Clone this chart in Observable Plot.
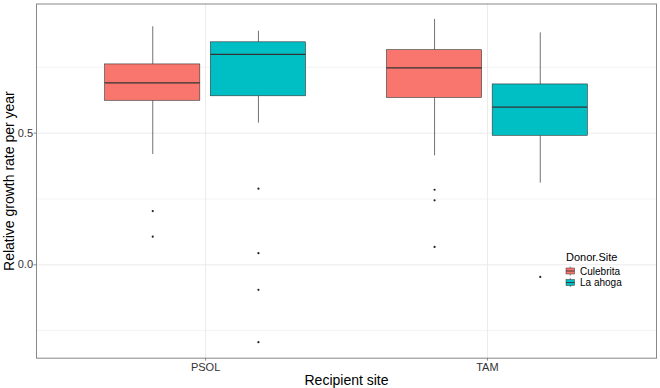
<!DOCTYPE html>
<html><head><meta charset="utf-8">
<script src="https://cdn.jsdelivr.net/npm/d3@7"></script>
<script src="https://cdn.jsdelivr.net/npm/@observablehq/plot@0.6"></script>
<style>
body{margin:0;background:#fff;}
#wrap{position:relative;width:660px;height:388px;font-family:"Liberation Sans",Arial,sans-serif;}
#legend{position:absolute;left:0;top:0;pointer-events:none;}
</style></head><body><div id="wrap"></div>
<script>
// ---- data ----
const sites = ["PSOL", "TAM"];
const donors = ["Culebrita", "La ahoga"];
const donorColors = ["#F8766D", "#00BFC4"];

const groupSite   = ["PSOL", "PSOL", "TAM", "TAM"];
const groupDonor  = ["Culebrita", "La ahoga", "Culebrita", "La ahoga"];
const upperWhisker = [0.904, 0.887, 0.932, 0.881];
const q3           = [0.761, 0.845, 0.815, 0.685];
const median       = [0.691, 0.799, 0.748, 0.599];
const q1           = [0.623, 0.640, 0.634, 0.490];
const lowerWhisker = [0.419, 0.538, 0.414, 0.310];

const outlierSite  = ["PSOL", "PSOL", "PSOL", "PSOL", "PSOL", "PSOL", "TAM", "TAM", "TAM", "TAM"];
const outlierDonor = ["Culebrita", "Culebrita", "La ahoga", "La ahoga", "La ahoga", "La ahoga", "Culebrita", "Culebrita", "Culebrita", "La ahoga"];
const outlierValue = [0.204, 0.107, 0.289, 0.044, -0.095, -0.294, 0.285, 0.245, 0.068, -0.046];

const yTicks = [0, 0.5];
const yGrid = [-0.25, 0, 0.25, 0.5, 0.75];

// ---- layout helpers ----
const dodge = 0.1875, boxW = 0.3375;
const xPos = (site, donor) => sites.indexOf(site) + 1 + (donors.indexOf(donor) === 0 ? -dodge : dodge);

const groups = groupSite.map((s, i) => ({
  site: s, donor: groupDonor[i], hi: upperWhisker[i], q3: q3[i], med: median[i], q1: q1[i], lo: lowerWhisker[i]
}));
const outliers = outlierSite.map((s, i) => ({site: s, donor: outlierDonor[i], v: outlierValue[i]}));

const font = '"Liberation Sans", Arial, sans-serif';
const chart = Plot.plot({
  width: 660, height: 388,
  marginLeft: 36, marginRight: 4, marginTop: 3.5, marginBottom: 30.3,
  style: {fontFamily: font, fontSize: "11px", background: "#fff", color: "#333"},
  x: {type: "linear", domain: [0.4, 2.6]},
  y: {domain: [-0.3547, 0.9905]},
  color: {domain: donors, range: donorColors},
  marks: [
    Plot.gridY(yGrid.filter(v => !yTicks.includes(v)), {stroke: "#ebebeb", strokeOpacity: 1, strokeWidth: 0.6}),
    Plot.gridY(yTicks, {stroke: "#ebebeb", strokeOpacity: 1, strokeWidth: 1}),
    Plot.gridX([1, 2], {stroke: "#ebebeb", strokeOpacity: 1, strokeWidth: 1}),
    Plot.ruleX(groups, {x: d => xPos(d.site, d.donor), y1: "q3", y2: "hi", stroke: "#333", strokeWidth: 0.7}),
    Plot.ruleX(groups, {x: d => xPos(d.site, d.donor), y1: "lo", y2: "q1", stroke: "#333", strokeWidth: 0.7}),
    Plot.rect(groups, {
      x1: d => xPos(d.site, d.donor) - boxW / 2, x2: d => xPos(d.site, d.donor) + boxW / 2,
      y1: "q1", y2: "q3", fill: "donor", stroke: "#333", strokeWidth: 0.6
    }),
    Plot.ruleY(groups, {
      y: "med", x1: d => xPos(d.site, d.donor) - boxW / 2, x2: d => xPos(d.site, d.donor) + boxW / 2,
      stroke: "#333", strokeWidth: 1.3
    }),
    Plot.dot(outliers, {x: d => xPos(d.site, d.donor), y: "v", r: 1.1, fill: "#222", stroke: null}),
    Plot.frame({stroke: "#888", strokeWidth: 1}),
    Plot.axisY(yTicks, {tickFormat: d3.format(".1f"), tickSize: 2.5, tickPadding: 1, fontSize: 11, label: null, stroke: "#888", fill: "#333"}),
    Plot.axisX([1, 2], {tickFormat: d => sites[d - 1], tickSize: 3, tickPadding: 1.5, fontSize: 11, label: null, stroke: "#888", fill: "#333"}),
    Plot.text(["Recipient site"], {frameAnchor: "bottom", dy: 26.5, lineAnchor: "bottom", fontSize: 14, fill: "#000", text: d => d}),
    Plot.text(["Relative growth rate per year"], {frameAnchor: "left", dx: -22.7, rotate: -90, textAnchor: "middle", lineAnchor: "bottom", fontSize: 14, fill: "#000", text: d => d})
  ]
});
const wrap = document.getElementById("wrap");
wrap.appendChild(chart);

// ---- legend (inside panel) ----
const svg = d3.select(wrap).append("svg").attr("id", "legend").attr("width", 660).attr("height", 388)
  .style("font-family", font);
svg.append("text").attr("x", 566).attr("y", 261).attr("font-size", 11).attr("fill", "#000").text("Donor.Site");
donors.forEach((d, i) => {
  const cy = 271 + i * 11.5;
  const g = svg.append("g");
  g.append("line").attr("x1", 570.2).attr("x2", 570.2).attr("y1", cy - 4.5).attr("y2", cy + 4.5).attr("stroke", "#333").attr("stroke-width", 0.6);
  g.append("rect").attr("x", 566).attr("y", cy - 3).attr("width", 8.5).attr("height", 6)
    .attr("fill", donorColors[i]).attr("stroke", "#333").attr("stroke-width", 0.5);
  g.append("line").attr("x1", 566).attr("x2", 574.5).attr("y1", cy).attr("y2", cy).attr("stroke", "#333").attr("stroke-width", 0.9);
  svg.append("text").attr("x", 580).attr("y", cy + 3.6).attr("font-size", 10).attr("fill", "#000").text(d);
});
</script></body></html>
